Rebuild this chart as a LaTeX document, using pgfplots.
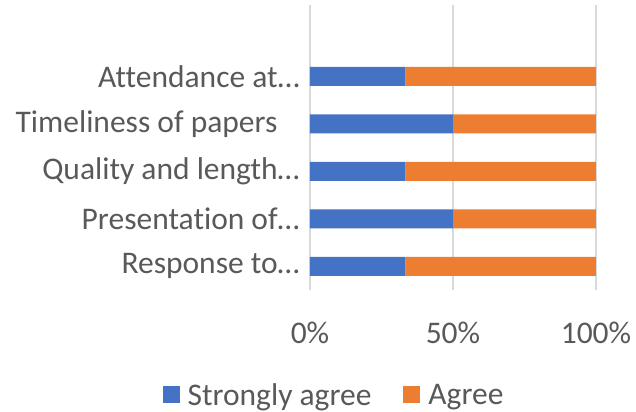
\documentclass[border=0pt]{standalone}
\usepackage{pgfplots}
\pgfplotsset{compat=1.18}
\usepackage{fontspec}
\setmainfont[Ligatures={NoCommon}]{Carlito}
\definecolor{txtgray}{HTML}{595959}
\definecolor{gridgray}{HTML}{D9D9D9}
\definecolor{sagree}{HTML}{4472C4}
\definecolor{agree}{HTML}{ED7D31}
\begin{document}
\begin{tikzpicture}
\useasboundingbox (-310bp,-122bp) rectangle (326bp,290bp);
\begin{axis}[
  scale only axis,
  width=286bp, height=285bp,
  xbar stacked,
  bar width=19bp,
  xmin=0, xmax=100,
  ymin=-0.5, ymax=5.5,
  xtick={0,50,100},
  xticklabels={0\%,50\%,100\%},
  ytick={0,1,2,3,4},
  yticklabels={Response to…,Presentation of…,Quality and length…,Timeliness of papers\rule{22bp}{0pt},Attendance at…},
  major tick length=0pt,
  axis line style={draw=none},
  xmajorgrids,
  major grid style={draw=gridgray, line width=1.2bp},
  tick label style={font=\fontsize{31.5bp}{38bp}\selectfont, text=txtgray},
  yticklabel style={xshift=-7bp},
  xticklabel style={yshift=-28bp},
  legend style={at={(0.084,-0.368)}, anchor=center, draw=none, fill=none,
    font=\fontsize{31.5bp}{38bp}\selectfont, text=txtgray,
    legend columns=2,
    /tikz/every odd column/.append style={column sep=6bp},
    /tikz/every even column/.append style={column sep=30bp}},
  legend image code/.code={\fill[#1] (0bp,-8.5bp) rectangle (17bp,8.5bp);},
]
\addplot[fill=sagree, draw=none] coordinates {(33.33,0) (50,1) (33.33,2) (50,3) (33.33,4)};
\addplot[fill=agree, draw=none] coordinates {(66.67,0) (50,1) (66.67,2) (50,3) (66.67,4)};
\legend{Strongly agree, Agree}
\end{axis}
\end{tikzpicture}
\end{document}
